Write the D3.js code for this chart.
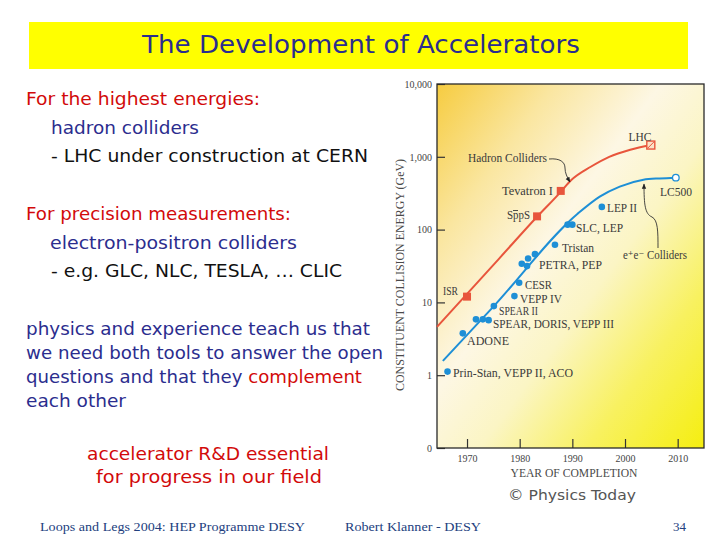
<!DOCTYPE html>
<html>
<head>
<meta charset="utf-8">
<script src="https://cdn.jsdelivr.net/npm/d3@7"></script>
<style>
  html, body { margin: 0; padding: 0; background: #ffffff; }
  svg { display: block; }
</style>
</head>
<body>
<svg id="slide" width="720" height="540"></svg>
<script>
// ---------------- data ----------------
const yTickValues = [0.1, 1, 10, 100, 1000, 10000];
const yTickLabels = ["0", "1", "10", "100", "1,000", "10,000"];
const xTickValues = [1970, 1980, 1990, 2000, 2010];
const xTickLabels = ["1970", "1980", "1990", "2000", "2010"];

const hadronNames = ["ISR", "SppS", "Tevatron I", "LHC"];
const hadronYears = [1970.0, 1983.3, 1987.8, 2004.9];
const hadronEnergies = [12, 152, 340, 1450];

const eeYears = [1966.3, 1969.2, 1971.7, 1973.0, 1974.1, 1975.1, 1979.0, 1979.9,
                 1980.4, 1981.4, 1981.6, 1982.9, 1986.7, 1989.1, 1990.0, 1995.6, 2009.65];
const eeEnergies = [1.12, 3.76, 5.85, 5.85, 5.7, 8.9, 12.2, 18.6,
                    34, 31.5, 40, 46, 62, 117, 117, 205, 517];

const hadronTrendYears = [1964.3, 1976.1, 1983.3, 1987.8, 1989.7, 1993.5, 1997.0, 2001.0, 2005.0];
const hadronTrendEnergies = [4.6, 40, 150, 330, 473, 730, 1000, 1250, 1450];

const eeTrendYears = [1965.4, 1975.1, 1991.0, 1995.2, 1999.0, 2003.5, 2006.6, 2009.65];
const eeTrendEnergies = [1.57, 8.9, 165, 284, 390, 484, 505, 517];

// ---------------- layout ----------------
const svg = d3.select("#slide");
const plot = { left: 437, right: 704, top: 84, bottom: 448 };

const x = d3.scaleLinear().domain([1964.3, 2015]).range([plot.left, plot.right]);
const y = d3.scaleLog().domain([0.1, 10000]).range([plot.bottom, plot.top]);

const RED = "#e8553c";
const BLUE = "#1e8fd6";
const TEXTRED = "#d20a0a";
const NAVY = "#2b2d8e";
const SERIF = "'Liberation Serif', 'DejaVu Serif', serif";
const SANS = "'DejaVu Sans', 'Noto Sans', sans-serif";

// ---------------- title banner ----------------
svg.append("rect").attr("x", 29).attr("y", 22).attr("width", 659).attr("height", 47)
  .attr("fill", "#ffff00");
svg.append("text").attr("x", 361).attr("y", 53).attr("text-anchor", "middle")
  .attr("font-family", SANS).attr("font-size", 24).attr("fill", NAVY)
  .attr("textLength", 438).attr("lengthAdjust", "spacingAndGlyphs")
  .text("The Development of Accelerators");

// ---------------- left text ----------------
const leftLines = [
  { x: 26, y: 105, w: 234, parts: [["For the highest energies:", TEXTRED]] },
  { x: 51, y: 134, w: 148, parts: [["hadron colliders", NAVY]] },
  { x: 51, y: 162, w: 317, parts: [["- LHC under construction at CERN", "#111111"]] },
  { x: 26, y: 220, w: 265, parts: [["For precision measurements:", TEXTRED]] },
  { x: 50, y: 249, w: 247, parts: [["electron-positron colliders", NAVY]] },
  { x: 51, y: 277, w: 291, parts: [["- e.g. GLC, NLC, TESLA, … CLIC", "#111111"]] },
  { x: 26, y: 335, w: 344, parts: [["physics and experience teach us that", NAVY]] },
  { x: 26, y: 359, w: 357, parts: [["we need both tools to answer the open", NAVY]] },
  { x: 26, y: 383, w: 336, parts: [["questions and that they ", NAVY], ["complement", TEXTRED]] },
  { x: 26, y: 407, w: 100, parts: [["each other", NAVY]] }
];
leftLines.forEach(l => {
  const t = svg.append("text").attr("x", l.x).attr("y", l.y)
    .attr("font-family", SANS).attr("font-size", 17)
    .attr("textLength", l.w).attr("lengthAdjust", "spacingAndGlyphs");
  l.parts.forEach(p => t.append("tspan").attr("fill", p[1]).text(p[0]));
});

[["accelerator R&D essential", 208, 460, 242], ["for progress in our field", 209, 483, 226]]
  .forEach(d => {
    svg.append("text").attr("x", d[1]).attr("y", d[2]).attr("text-anchor", "middle")
      .attr("font-family", SANS).attr("font-size", 17).attr("fill", TEXTRED)
      .attr("textLength", d[3]).attr("lengthAdjust", "spacingAndGlyphs").text(d[0]);
  });

svg.append("text").attr("x", 508).attr("y", 500)
  .attr("font-family", SANS).attr("font-size", 14).attr("fill", "#555555")
  .attr("textLength", 128).attr("lengthAdjust", "spacingAndGlyphs")
  .text("© Physics Today");

// footer
[["Loops and Legs 2004: HEP Programme DESY", 40, 265], ["Robert Klanner - DESY", 345, 136], ["34", 673, 13]]
  .forEach(d => {
    svg.append("text").attr("x", d[1]).attr("y", 531)
      .attr("font-family", SERIF).attr("font-size", 13.5).attr("fill", "#22407e")
      .attr("textLength", d[2]).attr("lengthAdjust", "spacingAndGlyphs").text(d[0]);
  });

// ---------------- chart ----------------
const defs = svg.append("defs");
const grad = defs.append("linearGradient").attr("id", "bg")
  .attr("x1", "0").attr("y1", "0").attr("x2", "1").attr("y2", "1");
[[0, "#f6cc40"], [0.22, "#fae6a0"], [0.42, "#fdf7e4"], [0.58, "#fbf5c4"], [0.78, "#f8f160"], [1, "#f5ee10"]]
  .forEach(s => grad.append("stop").attr("offset", s[0]).attr("stop-color", s[1]));

svg.append("rect").attr("x", plot.left).attr("y", plot.top)
  .attr("width", plot.right - plot.left).attr("height", plot.bottom - plot.top)
  .attr("fill", "url(#bg)");

// axes (ticks inward)
const yAxis = d3.axisLeft(y).tickValues(yTickValues)
  .tickFormat((d, i) => yTickLabels[i]).tickSizeInner(-8).tickSizeOuter(0).tickPadding(5);
const gy = svg.append("g").attr("transform", `translate(${plot.left},0)`).call(yAxis);
const xAxis = d3.axisBottom(x).tickValues(xTickValues)
  .tickFormat((d, i) => xTickLabels[i]).tickSizeInner(-9).tickSizeOuter(0).tickPadding(7);
const gx = svg.append("g").attr("transform", `translate(0,${plot.bottom})`).call(xAxis);
[gx, gy].forEach(g => {
  g.select(".domain").remove();
  g.selectAll(".tick line").attr("stroke", "#333333").attr("stroke-width", 1.2);
  g.selectAll(".tick text").attr("font-family", SERIF).attr("font-size", 10)
    .attr("fill", "#444444");
});

// frame
svg.append("rect").attr("x", plot.left).attr("y", plot.top)
  .attr("width", plot.right - plot.left).attr("height", plot.bottom - plot.top)
  .attr("fill", "none").attr("stroke", "#2a2a2a").attr("stroke-width", 1.3);

// axis titles
svg.append("text").attr("x", 574).attr("y", 477).attr("text-anchor", "middle")
  .attr("font-family", SERIF).attr("font-size", 12).attr("fill", "#4a4a4a")
  .attr("textLength", 127).attr("lengthAdjust", "spacingAndGlyphs")
  .text("YEAR OF COMPLETION");
svg.append("text").attr("transform", "translate(404,275) rotate(-90)")
  .attr("text-anchor", "middle")
  .attr("font-family", SERIF).attr("font-size", 12).attr("fill", "#4a4a4a")
  .attr("textLength", 232).attr("lengthAdjust", "spacingAndGlyphs")
  .text("CONSTITUENT COLLISION ENERGY (GeV)");

// trend lines
const line = d3.line().x(d => x(d[0])).y(d => y(d[1])).curve(d3.curveMonotoneX);
svg.append("path").datum(d3.zip(hadronTrendYears, hadronTrendEnergies))
  .attr("d", line).attr("fill", "none").attr("stroke", RED).attr("stroke-width", 2);
svg.append("path").datum(d3.zip(eeTrendYears, eeTrendEnergies))
  .attr("d", line).attr("fill", "none").attr("stroke", BLUE).attr("stroke-width", 2);

// hadron markers
const hadron = d3.zip(hadronYears, hadronEnergies, hadronNames);
const sq = 8;
svg.append("g").selectAll("rect").data(hadron).join("rect")
  .attr("x", d => x(d[0]) - sq / 2).attr("y", d => y(d[1]) - sq / 2)
  .attr("width", sq).attr("height", sq)
  .attr("fill", d => d[2] === "LHC" ? "#fbe3c8" : RED)
  .attr("stroke", RED).attr("stroke-width", d => d[2] === "LHC" ? 1.4 : 0);
const lhc = hadron[3];
svg.append("path")
  .attr("d", `M${x(lhc[0]) - 3},${y(lhc[1]) + 3}L${x(lhc[0]) + 3},${y(lhc[1]) - 3}`)
  .attr("stroke", RED).attr("stroke-width", 1);

// e+e- markers
const ee = d3.zip(eeYears, eeEnergies);
svg.append("g").selectAll("circle").data(ee).join("circle")
  .attr("cx", d => x(d[0])).attr("cy", d => y(d[1])).attr("r", 3.3)
  .attr("fill", (d, i) => i === ee.length - 1 ? "#ffffff" : BLUE)
  .attr("stroke", BLUE).attr("stroke-width", (d, i) => i === ee.length - 1 ? 1.3 : 0);

// labels
const labels = [
  ["LHC", 640, 141, "middle", 0],
  ["Hadron Colliders", 468, 162, "start", 79],
  ["Tevatron I", 553, 195, "end", 51],
  ["SppS", 530, 219, "end", 23],
  ["LC500", 660, 196, "start", 32],
  ["LEP II", 607, 212, "start", 30],
  ["SLC, LEP", 576, 232, "start", 47],
  ["Tristan", 562, 252, "start", 32],
  ["PETRA, PEP", 539, 269, "start", 63],
  ["e⁺e⁻ Colliders", 623, 259, "start", 64],
  ["ISR", 443, 295, "start", 15],
  ["CESR", 525, 289, "start", 27],
  ["VEPP IV", 520, 303, "start", 42],
  ["SPEAR II", 499, 314.5, "start", 39],
  ["SPEAR, DORIS, VEPP III", 493, 327.5, "start", 121],
  ["ADONE", 467, 345, "start", 42],
  ["Prin-Stan, VEPP II, ACO", 453, 377, "start", 120]
];
labels.forEach(l => {
  const t = svg.append("text").attr("x", l[1]).attr("y", l[2]).attr("text-anchor", l[3])
    .attr("font-family", SERIF).attr("font-size", 11.5).attr("fill", "#3a3a3a")
    .text(l[0]);
  if (l[4]) t.attr("textLength", l[4]).attr("lengthAdjust", "spacingAndGlyphs");
});
svg.append("line").attr("x1", 513).attr("x2", 518).attr("y1", 210.5).attr("y2", 210.5)
  .attr("stroke", "#3a3a3a").attr("stroke-width", 0.9);

// arrows
const arrowDefs = defs.append("marker").attr("id", "ah").attr("viewBox", "0 0 10 10")
  .attr("refX", 9).attr("refY", 5).attr("markerWidth", 6).attr("markerHeight", 6)
  .attr("orient", "auto-start-reverse");
arrowDefs.append("path").attr("d", "M0,1L10,5L0,9Z").attr("fill", "#222");
svg.append("path").attr("d", "M549,159 C560,158 565,162 565,168 C565,173 567,177 570,182")
  .attr("fill", "none").attr("stroke", "#333").attr("stroke-width", 0.9)
  .attr("marker-end", "url(#ah)");
svg.append("path").attr("d", "M658,248 C658,232 658,220 652,217 C645,214 644,205 644,184")
  .attr("fill", "none").attr("stroke", "#333").attr("stroke-width", 0.9)
  .attr("marker-end", "url(#ah)");
</script>
</body>
</html>
